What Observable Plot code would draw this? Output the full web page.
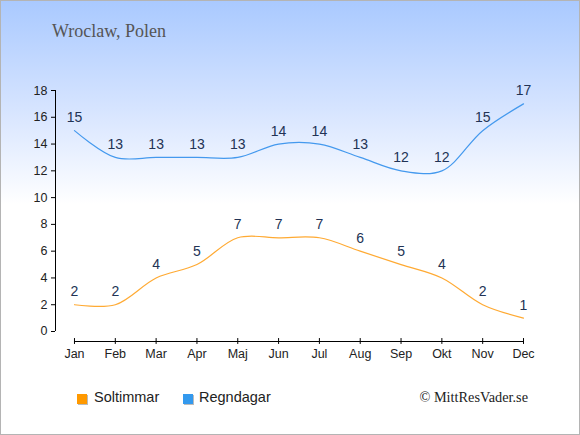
<!DOCTYPE html>
<html>
<head>
<meta charset="utf-8">
<script src="https://cdn.jsdelivr.net/npm/d3@7"></script>
<script src="https://cdn.jsdelivr.net/npm/@observablehq/plot@0.6"></script>
<style>
  html, body { margin: 0; padding: 0; background: #fff; }
  #wrap {
    position: relative; width: 580px; height: 435px; overflow: hidden;
    background: linear-gradient(#a9c9ff 0%, #d6e4ff 25%, #ffffff 47%, #ffffff 100%);
    box-shadow: inset 0 0 0 1px #b4b4b4;
  }
  #title {
    position: absolute; left: 52px; top: 21px;
    font-family: "Liberation Serif", serif; font-size: 18px; color: #555;
  }
  #chart { position: absolute; left: 0; top: 60px; }
  .leg { position: absolute; top: 389px; font-family: "Liberation Sans", Arial, sans-serif; font-size: 14.5px; color: #222; }
  .sw { position: absolute; top: 394px; width: 10px; height: 10px; box-shadow: 1px 1px 0 #bbb; }
  #copy { position: absolute; right: 52px; top: 389px; font-family: "Liberation Serif", serif; font-size: 14.3px; color: #222; }
</style>
</head>
<body>
<div id="wrap">
  <div id="title">Wroclaw, Polen</div>
  <div id="chart"></div>
  <div class="sw" style="left:77px;background:#ff9900"></div>
  <div class="leg" style="left:94px">Soltimmar</div>
  <div class="sw" style="left:183px;background:#3399ee"></div>
  <div class="leg" style="left:199px">Regndagar</div>
  <div id="copy">© MittResVader.se</div>
</div>
<script>
const months = ["Jan","Feb","Mar","Apr","Maj","Jun","Jul","Aug","Sep","Okt","Nov","Dec"];
const soltimmar = [2,2,4,5,7,7,7,6,5,4,2,1];
const regndagar = [15,13,13,13,13,14,14,13,12,12,15,17];
const yTicks = [0,2,4,6,8,10,12,14,16,18];

const sol = months.map((m,i) => ({i, v: soltimmar[i]}));
const regn = months.map((m,i) => ({i, v: regndagar[i]}));
const idx = months.map((m,i) => i);
const yBase = -0.747;

const plot = Plot.plot({
  width: 580, height: 310,
  marginLeft: 55, marginRight: 57, marginTop: 30, marginBottom: 29,
  style: {background: "transparent", fontFamily: "'Liberation Sans', Arial, sans-serif", fontSize: "12px", color: "#222"},
  x: {type: "linear", domain: [-0.465, 11], axis: null},
  y: {type: "linear", domain: [yBase, 18], axis: null},
  marks: [
    Plot.ruleX([-0.465], {y1: 0, y2: 18, stroke: "#000"}),
    Plot.axisY({ticks: yTicks, tickSize: 4, tickPadding: 4, label: null, stroke: "#000", fontSize: 12.5}),
    Plot.ruleY([yBase], {x1: 0, x2: 11, stroke: "#000"}),
    Plot.ruleX(idx, {x: d => d, y1: yBase - 0.22, y2: yBase + 0.22, stroke: "#000"}),
    Plot.text(idx, {x: d => d, y: yBase, text: d => months[d], dy: 12, fill: "#222", fontSize: 12.5}),
    Plot.line(sol, {x: "i", y: "v", stroke: "#ffaa33", strokeWidth: 1.2, curve: "catmull-rom"}),
    Plot.line(regn, {x: "i", y: "v", stroke: "#4499ee", strokeWidth: 1.2, curve: "catmull-rom"}),
    Plot.text(sol, {x: "i", y: "v", text: "v", dy: -13, fill: "#223355", fontSize: 14}),
    Plot.text(regn, {x: "i", y: "v", text: "v", dy: -13, fill: "#223355", fontSize: 14})
  ]
});
document.getElementById("chart").appendChild(plot);
</script>
</body>
</html>
